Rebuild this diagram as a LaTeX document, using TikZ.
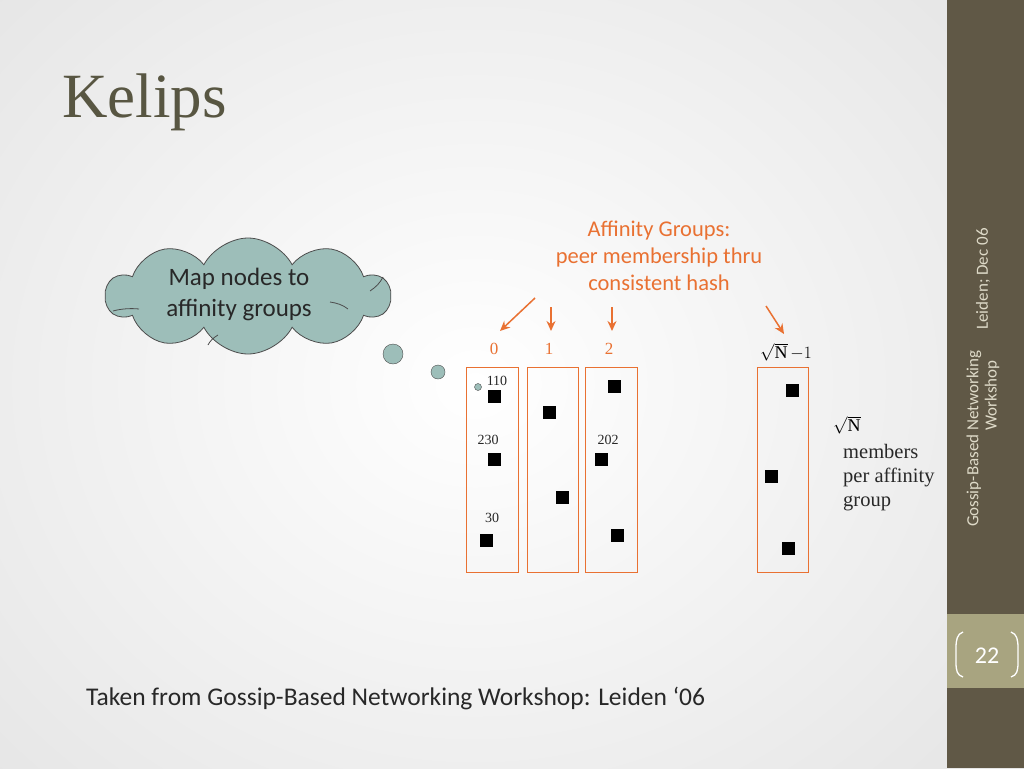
\documentclass[tikz,border=0pt]{standalone}
\usepackage{fontspec}
\setmainfont{Liberation Serif}
\newfontfamily\calib{Carlito}
\usetikzlibrary{shapes.symbols,arrows.meta}
\definecolor{orng}{RGB}{233,113,50}
\definecolor{cloudc}{RGB}{157,190,185}
\definecolor{sidec}{RGB}{96,88,70}
\definecolor{bandc}{RGB}{168,164,128}
\definecolor{titlec}{RGB}{88,86,66}
\definecolor{sidetxt}{RGB}{222,218,200}
\definecolor{txtc}{RGB}{40,40,40}
\tikzset{
  grp/.style={draw=orng, line width=1.3pt, minimum width=52, minimum height=205, inner sep=0, anchor=north west},
  sq/.style={fill=black, minimum size=13, inner sep=0},
  num/.style={font=\fontsize{14}{14}\selectfont, inner sep=0, text=txtc},
  glabel/.style={font=\fontsize{17}{17}\selectfont, text=orng, inner sep=0},
  oarrow/.style={draw=orng, line width=1.5pt, -{Stealth[length=10pt,width=9pt]}},
  bubble/.style={circle, draw=black!70, fill=cloudc, inner sep=0},
  sidelbl/.style={font=\calib\fontsize{17}{17}\selectfont, text=sidetxt, rotate=90, inner sep=0},
  cloudline/.style={draw=black!70, line width=0.8pt}
}
\begin{document}
\begin{tikzpicture}[x=1pt,y=-1pt]
\useasboundingbox (0,0) rectangle (1024,768);
% background
\shade[inner color=white, outer color=black!10] (-200,-200) rectangle (1150,968);
% sidebar
\fill[sidec] (947,0) rectangle (1024,768);
\fill[bandc] (947,614) rectangle (1024,688);
\node[sidelbl] (side1) at (983,279) {Leiden; Dec 06};
\node[sidelbl, anchor=east] (side2) at (974,350) {Gossip-Based Networking};
\node[sidelbl, anchor=east] (side3) at (992,360) {Workshop};
\node[font=\calib\fontsize{24}{24}\selectfont, text=white, inner sep=0] (pnum) at (987,656) {22};
\draw[white, line width=1.3pt] (963,632) .. controls (957,634) and (956,640) .. (956,648) -- (956,662) .. controls (956,671) and (957,675) .. (963,677);
\draw[white, line width=1.3pt] (1011,632) .. controls (1017,634) and (1018,640) .. (1018,648) -- (1018,662) .. controls (1018,671) and (1017,675) .. (1011,677);
% title
\node[font=\fontsize{63}{63}\selectfont, text=titlec, anchor=west, inner sep=0] (title) at (62,102) {Kelips};
% cloud
\node[cloud, cloud puffs=10, cloud puff arc=125, aspect=2.4, minimum width=284, minimum height=116, draw=black!70, fill=cloudc, line width=0.8pt] (cloud) at (248,296) {};
\draw[cloudline] (113,311) .. controls (120,309) and (130,308) .. (139,309);
\draw[cloudline] (370,291) .. controls (376,287) and (380,283) .. (383,277);
\draw[cloudline] (330,302) .. controls (337,303) and (343,305) .. (348,309);
\draw[cloudline] (208,345) .. controls (210,341) and (213,338) .. (218,335);
\node[font=\calib\fontsize{25}{31}\selectfont, text=txtc, align=center, inner sep=0] (cloudtxt) at (239,294) {Map nodes to\\affinity groups};
\node[bubble, minimum size=20] (b1) at (393,354) {};
\node[bubble, minimum size=14] (b2) at (438,372) {};
\node[bubble, minimum size=7] (b3) at (478,387) {};
% affinity text
\node[font=\calib\fontsize{22.5}{27}\selectfont, text=orng, align=center, inner sep=0] (aff) at (659,256) {Affinity Groups:\\peer membership thru\\consistent hash};
% group boxes
\node[grp] (g0) at (466,367) {};
\node[grp, minimum width=51] (g1) at (527,367) {};
\node[grp] (g2) at (585,367) {};
\node[grp, minimum width=51] (gn) at (757,367) {};
% group labels
\node[glabel] (l0) at (494,349) {0};
\node[glabel] (l1) at (549,349) {1};
\node[glabel] (l2) at (609,349) {2};
\node[font=\fontsize{18}{18}\selectfont, inner sep=0] (ln) at (786,352) {$\sqrt{\mathrm{N}}\,{-}1$};
% arrows
\coordinate (a0s) at (535,298); \coordinate (a0e) at (500,331);
\coordinate (a1s) at (551,307); \coordinate (a1e) at (551,331);
\coordinate (a2s) at (612,307); \coordinate (a2e) at (612,331);
\coordinate (ans) at (766,306); \coordinate (ane) at (784,334);
\draw[oarrow] (a0s) -- (a0e);
\draw[oarrow] (a1s) -- (a1e);
\draw[oarrow] (a2s) -- (a2e);
\draw[oarrow] (ans) -- (ane);
% squares
\node[sq] (s01) at (494,396) {};
\node[sq] (s02) at (494,459) {};
\node[sq] (s03) at (486,540) {};
\node[sq] (s11) at (549,412) {};
\node[sq] (s12) at (562,497) {};
\node[sq] (s21) at (614,386) {};
\node[sq] (s22) at (601,459) {};
\node[sq] (s23) at (617,535) {};
\node[sq] (sn1) at (792,390) {};
\node[sq] (sn2) at (771,476) {};
\node[sq] (sn3) at (788,548) {};
% numbers
\node[num] (n110) at (497,381) {110};
\node[num] (n230) at (488,440) {230};
\node[num] (n30) at (492,518) {30};
\node[num] (n202) at (608,440) {202};
% right text
\node[font=\fontsize{18}{18}\selectfont, inner sep=0, anchor=west] (sqn) at (833,425) {$\sqrt{\mathrm{N}}$};
\node[font=\fontsize{20.5}{24}\selectfont, text=txtc, align=left, anchor=north west, inner sep=0] (mem) at (843,444) {members\\per affinity\\group};
% footer
\node[font=\calib\fontsize{25.5}{25.5}\selectfont, text=txtc, anchor=west, inner sep=0] (foot) at (86,698) {Taken from Gossip-Based Networking Workshop: Leiden ‘06};
\end{tikzpicture}
\end{document}
